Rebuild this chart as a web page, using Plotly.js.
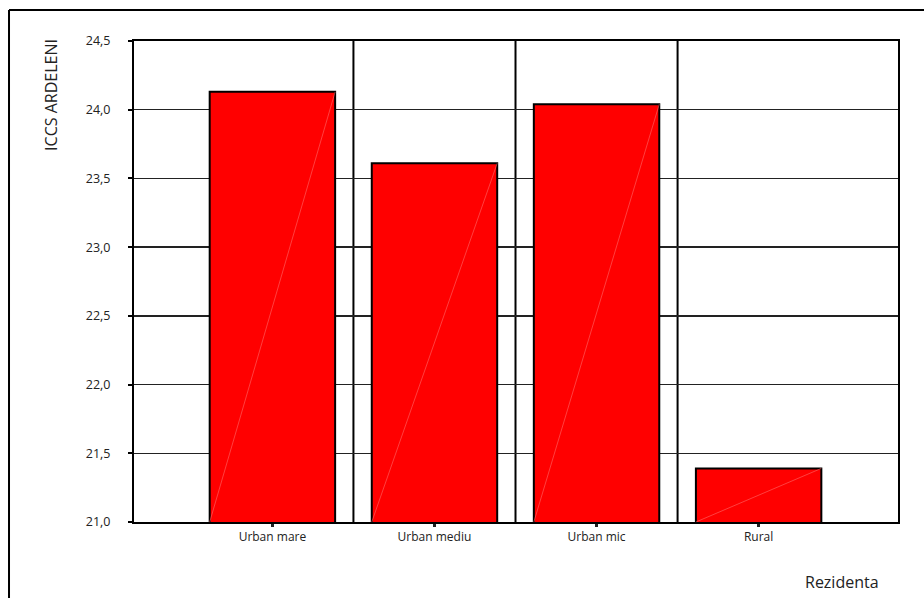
<!DOCTYPE html>
<html><head><meta charset="utf-8">
<script src="https://cdn.plot.ly/plotly-3.0.1.min.js"></script>
<style>html,body{margin:0;padding:0;background:#fff}#chart{width:924px;height:598px}</style>
</head><body><div id="chart"></div>
<script>
const categories = ["Urban mare", "Urban mediu", "Urban mic", "Rural"];
const values = [24.13, 23.61, 24.04, 21.39];
const yTicks = [21.0, 21.5, 22.0, 22.5, 23.0, 23.5, 24.0, 24.5];
const yTitle = "ICCS ARDELENI";
const xTitle = "Rezidenta";

const idx = categories.map((_, i) => i);
const barW = 0.774;
const yMin = 21.0, yMax = 24.5;
const FONT = 'Open Sans, Noto Sans, sans-serif';

const traces = [{
  type: 'bar', x: idx, y: values, width: barW,
  marker: {color: '#ff0000', line: {color: '#000', width: 2}},
  hoverinfo: 'skip'
}];
idx.forEach((i) => {
  traces.push({
    type: 'scatter', mode: 'lines',
    x: [i - barW / 2, i + barW / 2], y: [yMin, values[i]],
    line: {color: '#ff6a6a', width: 0.6}, hoverinfo: 'skip'
  });
});

const shapes = [];
for (let i = 0; i < categories.length - 1; i++) {
  shapes.push({type: 'line', xref: 'x', yref: 'y', x0: i + 0.5, x1: i + 0.5, y0: yMin, y1: yMax,
    line: {color: '#000', width: 2}, layer: 'below'});
}
// outer frame
shapes.push({type: 'line', xref: 'paper', yref: 'paper', x0: -0.1636, x1: 1.1, y0: 1.0644, y1: 1.0644, line: {color: '#000', width: 2}});
shapes.push({type: 'line', xref: 'paper', yref: 'paper', x0: -0.1636, x1: -0.1636, y0: 1.0644, y1: -0.3, line: {color: '#000', width: 2}});

const layout = {
  width: 924, height: 598,
  margin: {l: 134, r: 26, t: 41, b: 76},
  paper_bgcolor: '#fff', plot_bgcolor: '#fff',
  separators: ', ',
  showlegend: false,
  font: {family: FONT, color: '#222'},
  xaxis: {
    range: [-0.854, 3.86], tickvals: idx, ticktext: categories,
    showgrid: false, zeroline: false, showline: true, mirror: true, linecolor: '#000', linewidth: 2,
    ticks: 'outside', ticklen: 3, tickwidth: 3, tickcolor: '#222',
    tickfont: {size: 12, family: FONT, color: '#222'}
  },
  yaxis: {
    range: [yMin, yMax], tickvals: yTicks, tickformat: '.1f',
    showgrid: true, gridcolor: '#222', gridwidth: 1.3,
    zeroline: false, showline: true, mirror: true, linecolor: '#000', linewidth: 2,
    ticks: 'outside', ticklen: 4, tickwidth: 2, tickcolor: '#000',
    ticklabelstandoff: 15,
    tickfont: {size: 12.5, family: FONT, color: '#222'}
  },
  shapes: shapes,
  annotations: [
    {text: yTitle, xref: 'paper', yref: 'paper', x: -0.1086, y: 0.888, xanchor: 'center', yanchor: 'middle',
     textangle: -90, showarrow: false, font: {size: 16, family: FONT, color: '#222'}},
    {text: xTitle, xref: 'paper', yref: 'paper', x: 0.927, y: -0.125, xanchor: 'center', yanchor: 'middle',
     showarrow: false, font: {size: 16, family: FONT, color: '#222'}}
  ]
};
Plotly.newPlot('chart', traces, layout, {displayModeBar: false, staticPlot: true});
</script></body></html>
